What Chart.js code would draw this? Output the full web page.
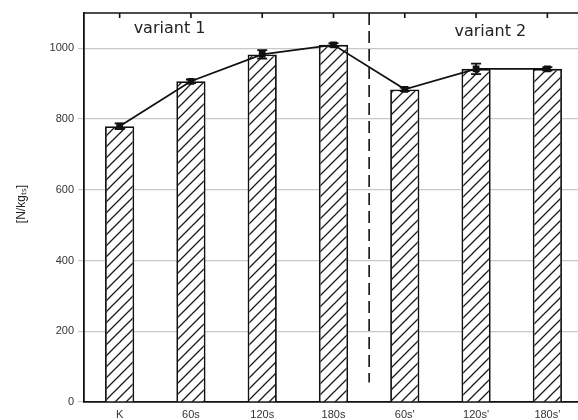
<!DOCTYPE html>
<html>
<head>
<meta charset="utf-8">
<script src="https://cdn.jsdelivr.net/npm/chart.js@4"></script>
<style>
  html, body { margin: 0; padding: 0; background: #fff; overflow: hidden; }
  #wrap { position: relative; width: 600px; height: 420px; }
</style>
</head>
<body>
<div id="wrap"><canvas id="forceChart"></canvas></div>
<script>
// data
const categories = ["K", "60s", "120s", "180s", "60s'", "120s'", "180s'"];
const meanValues = [780, 907, 983, 1010, 884, 942, 942];
const errValues = [8, 5, 12, 5, 5, 15, 5];
const yTicks = [0, 200, 400, 600, 800, 1000];
const groupLabels = ["variant 1", "variant 2"];
const yTitle = "[N/kg\u209c\u209b]";

// diagonal hatching for the bars
function hatch() {
  const c = document.createElement("canvas");
  c.width = 11; c.height = 11;
  const g = c.getContext("2d");
  g.fillStyle = "#fff";
  g.fillRect(0, 0, 11, 11);
  g.strokeStyle = "#1a1a1a";
  g.lineWidth = 1.3;
  g.beginPath();
  g.moveTo(-1, 12); g.lineTo(12, -1);
  g.moveTo(-1, 1); g.lineTo(1, -1);
  g.moveTo(10, 12); g.lineTo(12, 10);
  g.stroke();
  return g.createPattern(c, "repeat");
}

const extras = {
  id: "extras",
  afterDatasetsDraw(chart) {
    const ctx = chart.ctx;
    const x = chart.scales.x, y = chart.scales.y;
    const a = chart.chartArea;
    ctx.save();
    // error bars
    ctx.strokeStyle = "#111";
    ctx.lineWidth = 1.8;
    meanValues.forEach((v, i) => {
      const px = x.getPixelForValue(i);
      const top = y.getPixelForValue(v + errValues[i]);
      const bot = y.getPixelForValue(v - errValues[i]);
      ctx.beginPath();
      ctx.moveTo(px, top); ctx.lineTo(px, bot);
      ctx.moveTo(px - 5, top); ctx.lineTo(px + 5, top);
      ctx.moveTo(px - 5, bot); ctx.lineTo(px + 5, bot);
      ctx.stroke();
    });
    // top border with inward ticks
    ctx.lineWidth = 1.6;
    ctx.beginPath();
    ctx.moveTo(a.left, a.top); ctx.lineTo(a.right, a.top);
    categories.forEach((c, i) => {
      const px = x.getPixelForValue(i);
      ctx.moveTo(px, a.top); ctx.lineTo(px, a.top + 5);
    });
    ctx.stroke();
    // dashed separator
    const sx = x.getPixelForValue(3.5);
    ctx.setLineDash([12, 6]);
    ctx.beginPath();
    ctx.moveTo(sx, a.top); ctx.lineTo(sx, y.getPixelForValue(55));
    ctx.stroke();
    ctx.setLineDash([]);
    // group labels
    ctx.fillStyle = "#222";
    ctx.font = "16px 'DejaVu Sans'";
    ctx.textAlign = "center";
    ctx.textBaseline = "middle";
    ctx.fillText(groupLabels[0], x.getPixelForValue(0.7), a.top + 16);
    ctx.fillText(groupLabels[1], x.getPixelForValue(5.2), a.top + 19);
    // y axis title
    ctx.font = "12px 'Liberation Sans'";
    ctx.translate(22, y.getPixelForValue(560));
    ctx.rotate(-Math.PI / 2);
    ctx.fillText(yTitle, 0, 0);
    ctx.restore();
  }
};

const ctx = document.getElementById("forceChart").getContext("2d");
new Chart(ctx, {
  data: {
    labels: categories,
    datasets: [
      {
        type: "line",
        data: meanValues,
        borderColor: "#111",
        borderWidth: 1.8,
        pointBackgroundColor: "#111",
        pointBorderColor: "#111",
        pointStyle: "rect",
        pointRadius: 3.5,
        tension: 0,
        order: 0
      },
      {
        type: "bar",
        data: meanValues,
        backgroundColor: hatch(),
        borderColor: "#111",
        borderWidth: 1.8,
        barPercentage: 0.41,
        categoryPercentage: 1,
        order: 1
      }
    ]
  },
  options: {
    responsive: true,
    maintainAspectRatio: false,
    animation: false,
    layout: { padding: { top: 13, right: 17, left: 0, bottom: 0 } },
    plugins: { legend: { display: false }, tooltip: { enabled: false } },
    scales: {
      x: {
        grid: { display: false },
        border: { color: "#111", width: 1.8 },
        ticks: { color: "#333", font: { family: "Liberation Sans", size: 11 }, padding: -2, maxRotation: 0 },
        afterFit(s) { s.height = 18; }
      },
      y: {
        min: 0,
        max: 1100,
        grid: { color: "#c8c8c8", lineWidth: 1.2, tickLength: 6 },
        border: { color: "#111", width: 1.8 },
        ticks: {
          color: "#333",
          font: { family: "Liberation Sans", size: 11 },
          padding: 4,
          callback: (v) => String(v)
        },
        afterBuildTicks(s) { s.ticks = yTicks.map(v => ({ value: v })); },
        afterFit(s) { s.width = 84; }
      }
    }
  },
  plugins: [extras]
});
</script>
</body>
</html>
